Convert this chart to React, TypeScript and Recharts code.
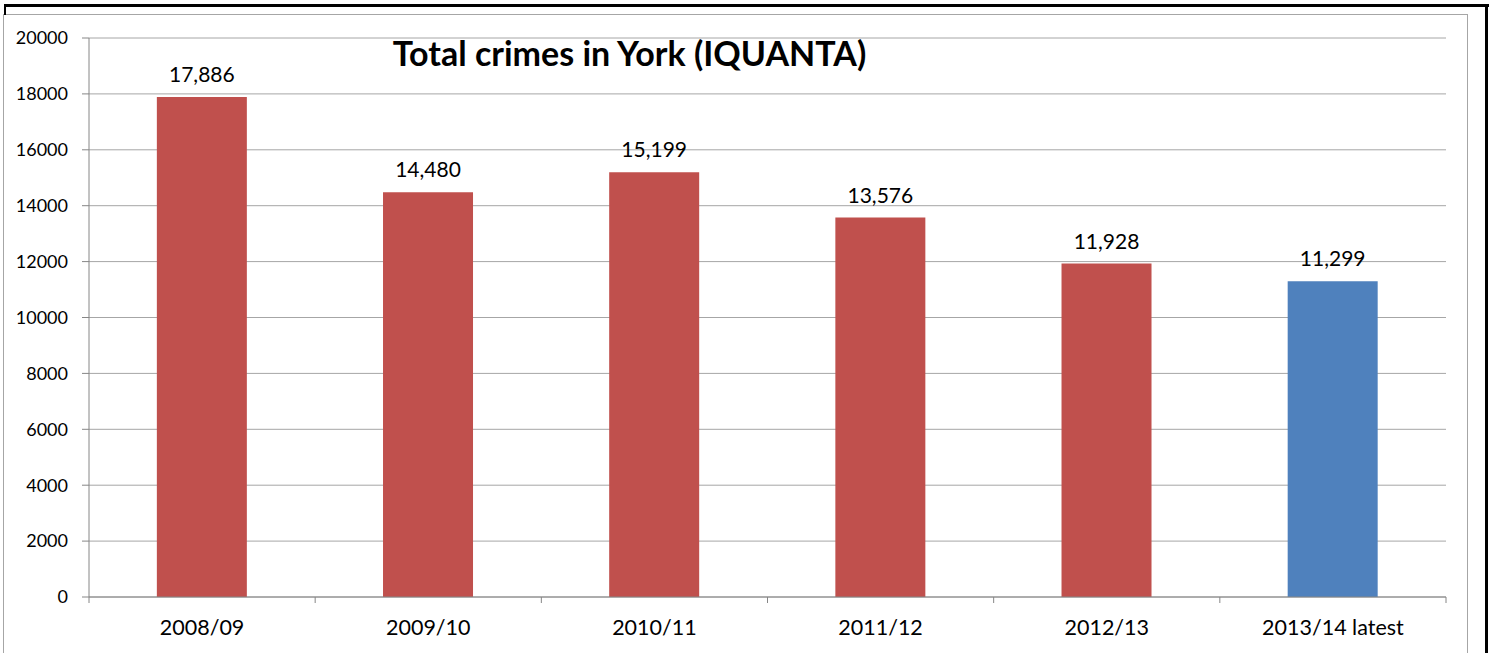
import { Bar, BarChart, CartesianGrid, Cell, LabelList, XAxis, YAxis } from "recharts";

const categories = ["2008/09", "2009/10", "2010/11", "2011/12", "2012/13", "2013/14 latest"];
const totals = [17886, 14480, 15199, 13576, 11928, 11299];
const barColors = ["#C0504D", "#C0504D", "#C0504D", "#C0504D", "#C0504D", "#4F81BD"];
const yTicks = [0, 2000, 4000, 6000, 8000, 10000, 12000, 14000, 16000, 18000, 20000];

const data = categories.map((period, i) => ({ period, total: totals[i] }));

const W = 1491;
const H = 653;
const M = { top: 38, right: 45, bottom: 0, left: 0 };
const Y_W = 89;
const X_H = 56;
const FONT = "Lato, 'Open Sans', sans-serif";
const band = (W - M.left - M.right - Y_W) / categories.length;

function CatTick(props: any) {
  const { x, y, payload, index } = props;
  const isLast = index === categories.length - 1;
  return (
    <g>
      <line x1={x - band / 2} x2={x - band / 2} y1={y - 8} y2={y - 2} stroke="#868686" />
      {isLast && <line x1={x + band / 2} x2={x + band / 2} y1={y - 8} y2={y - 2} stroke="#868686" />}
      <text x={x} y={y + 30} textAnchor="middle" fill="#000" fontSize={21.5} fontFamily={FONT}>
        {payload.value}
      </text>
    </g>
  );
}

export default function App() {
  return (
    <div style={{ position: "absolute", left: 0, top: 0, width: W, height: H, background: "#fff", overflow: "hidden" }}>
      <div style={{ position: "absolute", left: 3, top: 14, width: 1465, height: 660, border: "1px solid #A6A6A6", boxSizing: "border-box" }} />
      <div style={{ position: "absolute", left: 4, top: 4, width: 1485, height: 3, background: "#000" }} />
      <div style={{ position: "absolute", left: 4, top: 4, width: 2, height: 11, background: "#000" }} />
      <div style={{ position: "absolute", left: 1485, top: 4, width: 3, height: 660, background: "#000" }} />
      <BarChart width={W} height={H} data={data} margin={M} barCategoryGap="30%">
        <CartesianGrid vertical={false} stroke="#A6A6A6" strokeWidth={1} />
        <XAxis
          dataKey="period"
          height={X_H}
          stroke="#868686"
          tickLine={false}
          tick={<CatTick />}
          interval={0}
        />
        <YAxis
          width={Y_W}
          domain={[0, 20000]}
          ticks={yTicks}
          stroke="#868686"
          tickSize={7}
          tick={{ fill: "#000", fontSize: 18, fontFamily: FONT }}
          tickMargin={14}
          interval={0}
        />
        <Bar dataKey="total" isAnimationActive={false}>
          {data.map((d, i) => (
            <Cell key={d.period} fill={barColors[i]} />
          ))}
          <LabelList
            dataKey="total"
            position="top"
            offset={15}
            fill="#000"
            fontSize={21}
            fontFamily={FONT}
            formatter={(v: any) => Number(v).toLocaleString("en-GB")}
          />
        </Bar>
      </BarChart>
      <svg width={W} height={H} style={{ position: "absolute", left: 0, top: 0, pointerEvents: "none" }}>
        <text x={629.5} y={66} textAnchor="middle" fontFamily={FONT} fontWeight={700} fontSize={34} fill="#000">
          Total crimes in York (IQUANTA)
        </text>
      </svg>
    </div>
  );
}
